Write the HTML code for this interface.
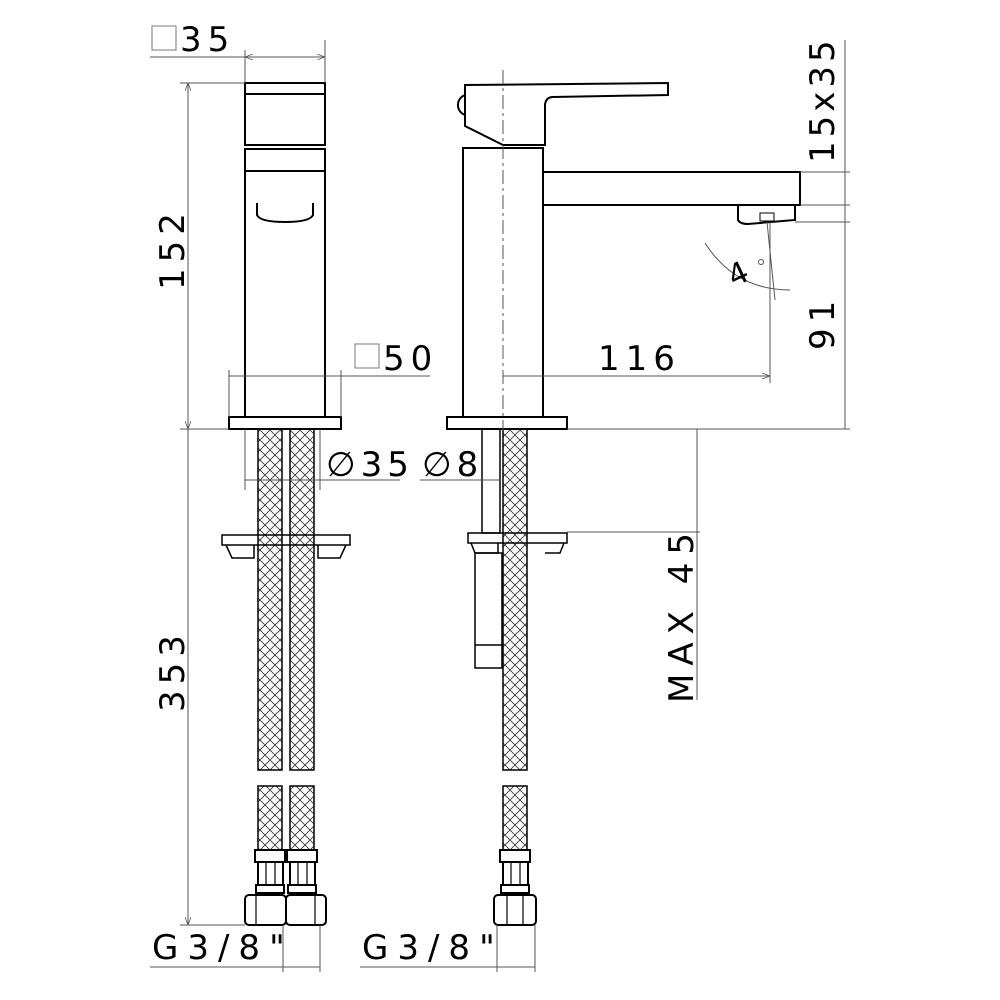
<!DOCTYPE html>
<html><head><style>body{margin:0;background:#fff}svg{display:block}text{font-family:"DejaVu Sans","Liberation Sans",sans-serif;font-size:34px;fill:#000}</style></head>
<body>
<svg width="1000" height="1000" viewBox="0 0 1000 1000" xmlns="http://www.w3.org/2000/svg">
<defs>
<pattern id="h" width="10" height="10" patternUnits="userSpaceOnUse">
<path d="M0,0L10,10M10,0L0,10" stroke="#333" stroke-width="0.8"/>
</pattern>
<marker id="a" markerWidth="8" markerHeight="6" refX="8" refY="3" orient="auto-start-reverse"><path d="M0,0L8,3L0,6" fill="none" stroke="#555" stroke-width="0.8"/></marker>
</defs>
<g fill="none" stroke="#000" stroke-width="2">
<rect x="245" y="83" width="80" height="62"/>
<line x1="245" y1="94" x2="325" y2="94"/>
<rect x="245" y="149" width="80" height="268"/>
<line x1="245" y1="171" x2="325" y2="171"/>
<path d="M257,203V215Q260,222 285,222Q310,222 313,215V203"/>
<rect x="229" y="417" width="112" height="12"/>
<rect x="258" y="429" width="24" height="341" fill="url(#h)" stroke-width="1.5"/>
<rect x="290" y="429" width="24" height="341" fill="url(#h)" stroke-width="1.5"/>
<rect x="258" y="786" width="24" height="64" fill="url(#h)" stroke-width="1.5"/>
<rect x="290" y="786" width="24" height="64" fill="url(#h)" stroke-width="1.5"/>
<path d="M222,535H350V545H222Z M226,545L232,558H254V545 M346,545L340,558H318V545" stroke-width="1.5"/>
<rect x="255" y="850" width="30" height="12"/><rect x="287" y="850" width="30" height="12"/>
<rect x="258" y="862" width="25" height="23"/><rect x="290" y="862" width="25" height="23"/>
<path d="M266,862V885M275,862V885M298,862V885M307,862V885" stroke-width="1.2"/>
<rect x="256" y="885" width="28" height="8"/><rect x="288" y="885" width="28" height="8"/>
<rect x="245" y="895" width="41" height="30" rx="4"/><rect x="286" y="895" width="40" height="30" rx="4"/>
<path d="M256,895V925M315,895V925M507,895V925M523,895V925" stroke-width="1.2"/>
<rect x="463" y="148" width="80" height="269"/>
<path d="M465,85L668,83V95L552,97Q545,98 545,106V145H503L465,126Z"/>
<path d="M465,95Q458,98 458,105Q458,112 465,115"/>
<path d="M543,172H800V205H543"/>
<path d="M738,205V220Q740,224 748,224L795,220V205"/>
<rect x="760" y="213" width="14" height="8" stroke-width="1"/>
<rect x="447" y="417" width="120" height="12"/>
<rect x="503" y="429" width="24" height="341" fill="url(#h)" stroke-width="1.5"/>
<rect x="503" y="786" width="24" height="64" fill="url(#h)" stroke-width="1.5"/>
<rect x="482" y="429" width="18" height="104" stroke-width="1.5"/>
<path d="M468,533H567V543H468Z M471,543L475,553H498V543 M564,543L560,553H545" stroke-width="1.5"/>
<rect x="475" y="553" width="27" height="115" stroke-width="1.5"/>
<line x1="475" y1="645" x2="502" y2="645" stroke-width="1.5"/>
<rect x="500" y="850" width="30" height="12"/>
<rect x="503" y="862" width="25" height="23"/>
<path d="M511,862V885M520,862V885" stroke-width="1.2"/>
<rect x="501" y="885" width="28" height="8"/>
<rect x="494" y="895" width="42" height="30" rx="4"/>
</g>
<g fill="none" stroke="#555" stroke-width="1">
<line x1="503" y1="70" x2="503" y2="430" stroke-dasharray="14,4,3,4"/>
<line x1="150" y1="57" x2="325" y2="57"/>
<line x1="245" y1="57" x2="325" y2="57" marker-start="url(#a)" marker-end="url(#a)"/>
<line x1="245" y1="50" x2="245" y2="83"/><line x1="325" y1="40" x2="325" y2="83"/>
<line x1="180" y1="83" x2="245" y2="83"/>
<line x1="188" y1="83" x2="188" y2="429" marker-start="url(#a)" marker-end="url(#a)"/>
<line x1="180" y1="429" x2="229" y2="429"/>
<line x1="188" y1="429" x2="188" y2="925" marker-end="url(#a)"/>
<line x1="180" y1="925" x2="245" y2="925"/>
<line x1="229" y1="370" x2="229" y2="417"/><line x1="341" y1="370" x2="341" y2="417"/>
<line x1="229" y1="376" x2="430" y2="376"/>
<line x1="245" y1="429" x2="245" y2="490"/><line x1="320" y1="429" x2="320" y2="490"/>
<line x1="245" y1="480" x2="400" y2="480"/>
<line x1="420" y1="480" x2="500" y2="480"/>
<line x1="503" y1="376" x2="770" y2="376" marker-end="url(#a)"/>
<line x1="770" y1="222" x2="770" y2="383"/>
<line x1="767" y1="222" x2="775" y2="300"/>
<path d="M705,243Q735,290 790,290"/>
<line x1="567" y1="429" x2="850" y2="429"/>
<line x1="800" y1="172" x2="850" y2="172"/><line x1="800" y1="205" x2="850" y2="205"/><line x1="795" y1="222" x2="850" y2="222"/>
<line x1="845" y1="40" x2="845" y2="429"/>
<line x1="697" y1="429" x2="697" y2="700"/>
<line x1="567" y1="532" x2="700" y2="532"/>
<line x1="150" y1="967" x2="320" y2="967"/>
<line x1="283" y1="925" x2="283" y2="972"/><line x1="320" y1="925" x2="320" y2="972"/>
<line x1="360" y1="967" x2="535" y2="967"/>
<line x1="497" y1="925" x2="497" y2="972"/><line x1="535" y1="925" x2="535" y2="972"/>
<rect x="152" y="26" width="24" height="24" stroke="#777"/>
<rect x="355" y="344" width="24" height="24" stroke="#777"/>
<circle cx="761" cy="262" r="2.5"/>
</g>
<g>
<text x="180" y="51" letter-spacing="6">35</text>
<text x="383" y="370" letter-spacing="6">50</text>
<text x="326" y="476" letter-spacing="5">∅35</text>
<text x="422" y="476" letter-spacing="5">∅8</text>
<text x="598" y="370" letter-spacing="6">116</text>
<text x="152" y="959" letter-spacing="9">G3/8"</text>
<text x="362" y="959" letter-spacing="9">G3/8"</text>
<text x="727" y="283" style="font-size:30px" transform="rotate(-25 740 270)">4</text>
<text transform="translate(184,290) rotate(-90)" letter-spacing="6">152</text>
<text transform="translate(184,712) rotate(-90)" letter-spacing="6">353</text>
<text transform="translate(834,163) rotate(-90)" letter-spacing="4">15x35</text>
<text transform="translate(834,350) rotate(-90)" letter-spacing="6">91</text>
<text transform="translate(693,703) rotate(-90)" letter-spacing="8">MAX 45</text>
</g>
</svg>
</body></html>
